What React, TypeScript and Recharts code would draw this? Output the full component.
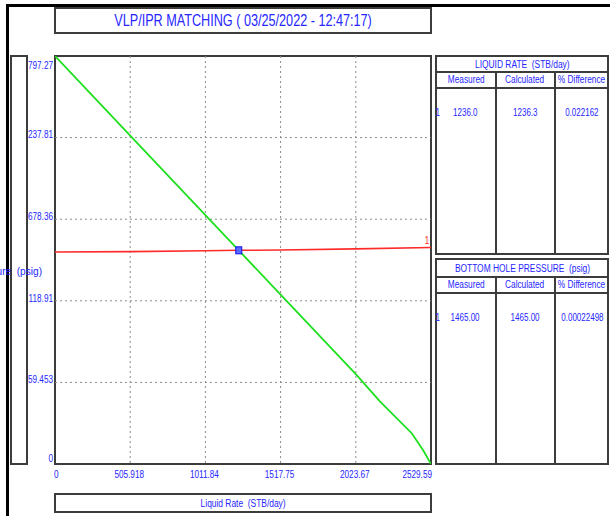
import React from 'react'
import { ComposedChart, Line, Scatter, XAxis, YAxis, CartesianGrid } from 'recharts'

// axis ticks (labels as printed by the matching report, leading digits cut off)
const rateTicks = [0, 505.918, 1011.84, 1517.75, 2023.67, 2529.59]
const rateTickLabels = ['0', '505.918', '1011.84', '1517.75', '2023.67', '2529.59']
const pressureTicks = [0, 559.453, 1118.91, 1678.36, 2237.81, 2797.27]
const pressureTickLabels = ['0', '59.453', '118.91', '678.36', '237.81', '797.27']

// IPR curve
const iprRate = [0, 505.918, 1011.84, 1517.75, 2023.67, 2186, 2399.8, 2475.8, 2529.59]
const iprPressure = [2797.27, 2252, 1707, 1161, 616, 430, 211, 96, 0]

// VLP curve
const vlpRate = [0, 505.918, 1011.84, 1236.3, 1517.75, 2023.67, 2529.59]
const vlpPressure = [1453, 1456, 1462, 1465, 1467, 1475, 1484]

// matched operating point
const matchRate = 1236.3
const matchPressure = 1465

const tableColumns = ['Measured', 'Calculated', '% Difference']
const liquidRateRow = ['1236.0', '1236.3', '0.022162']
const bhpRow = ['1465.00', '1465.00', '0.00022498']

const iprData = iprRate.map((x, i) => ({ x, y: iprPressure[i] }))
const vlpData = vlpRate.map((x, i) => ({ x, y: vlpPressure[i] }))
const matchData = [{ x: matchRate, y: matchPressure }]

const BLUE = '#2626ff'
const EDGE = '#3c3c3c'
const FONT = "'Liberation Sans', Arial, sans-serif"

const PLOT_L = 55
const PLOT_R = 431
const PLOT_T = 56
const PLOT_B = 464

function Box({ left, top, width, height, border = 2 }: { left: number; top: number; width: number; height: number; border?: number }) {
  return (
    <div
      style={{
        position: 'absolute',
        left,
        top,
        width,
        height,
        border: `${border}px solid ${EDGE}`,
        boxSizing: 'border-box',
      }}
    />
  )
}

// text centred on (cx, cy), squeezed horizontally like the report's narrow font
function Centered({ cx, cy, size, scale = 0.8, children }: { cx: number; cy: number; size: number; scale?: number; children: React.ReactNode }) {
  return (
    <div
      style={{
        position: 'absolute',
        left: cx - 300,
        width: 600,
        top: cy - size,
        height: size * 2,
        display: 'flex',
        alignItems: 'center',
        justifyContent: 'center',
        fontSize: size,
        lineHeight: 1,
        color: BLUE,
        whiteSpace: 'nowrap',
      }}
    >
      <span style={{ display: 'inline-block', transform: `scaleX(${scale})` }}>{children}</span>
    </div>
  )
}

function StatsTable({ top, bottom, headH, title, row }: { top: number; bottom: number; headH: number; title: string; row: string[] }) {
  const left = 435
  const right = 609
  const colX = [495, 554]
  const colCx = [466, 525, 582]
  const headLine = top + headH
  const colLine = headLine + 15.5
  return (
    <>
      <Box left={left} top={top} width={right - left} height={bottom - top} />
      <div style={{ position: 'absolute', left, top: headLine - 1, width: right - left, height: 2, background: EDGE }} />
      <div style={{ position: 'absolute', left, top: colLine - 1, width: right - left, height: 2, background: EDGE }} />
      {colX.map((x) => (
        <div key={x} style={{ position: 'absolute', left: x, top: headLine, width: 2, height: bottom - headLine, background: EDGE }} />
      ))}
      <Centered cx={(left + right) / 2} cy={top + headH / 2 + 1} size={10} scale={0.84}>
        {title}
      </Centered>
      {tableColumns.map((c, i) => (
        <Centered key={c} cx={colCx[i]} cy={headLine + 8} size={10} scale={0.83}>
          {c}
        </Centered>
      ))}
      <Centered cx={438} cy={colLine + 25} size={10} scale={0.8}>
        1
      </Centered>
      {row.map((v, i) => (
        <Centered key={i} cx={colCx[i] - (i === 0 ? 1 : 0)} cy={colLine + 25} size={10} scale={0.8}>
          {v}
        </Centered>
      ))}
    </>
  )
}

function svgText(x: number, y: number, text: string, anchor: 'start' | 'middle' | 'end', size: number, scale: number, fill = BLUE) {
  return (
    <text
      transform={`translate(${x},${y}) scale(${scale},1)`}
      x={0}
      y={0}
      dy="0.36em"
      textAnchor={anchor}
      fontSize={size}
      fontFamily={FONT}
      fill={fill}
    >
      {text}
    </text>
  )
}

function RateTick(props: any) {
  const { x, index } = props
  const label = rateTickLabels[index]
  if (index === 0) return svgText(PLOT_L - 1, 474, label, 'start', 10.5, 0.78)
  if (index === rateTicks.length - 1) return svgText(PLOT_R + 1, 474, label, 'end', 10.5, 0.78)
  return svgText(x - 1, 474, label, 'middle', 10.5, 0.78)
}

function PressureTick(props: any) {
  const { y, index } = props
  const cy = Math.min(Math.max(y - 3, 65), 458)
  return svgText(53, cy, pressureTickLabels[index], 'end', 10.5, 0.78)
}

function MatchMarker(props: any) {
  const { cx, cy } = props
  return <rect x={cx - 3} y={cy - 3.5} width={6} height={7} fill="#5a6bff" stroke="#1010ee" strokeWidth={1} />
}

function VlpLabel(props: any) {
  const { x, y, index } = props
  if (index !== vlpData.length - 1) return <g />
  return svgText(x - 4, y - 8, '1', 'middle', 11, 0.8, '#ff3030')
}

export default function App() {
  return (
    <div
      style={{
        position: 'absolute',
        left: 0,
        top: 0,
        width: 610,
        height: 516,
        background: '#fff',
        overflow: 'hidden',
        fontFamily: FONT,
      }}
    >
      {/* outer frame */}
      <div style={{ position: 'absolute', left: 6, top: 4, width: 604, height: 3, background: '#000' }} />
      <div style={{ position: 'absolute', left: 6, top: 4, width: 3, height: 512, background: '#000' }} />

      {/* title */}
      <Box left={54} top={7} width={378} height={27} />
      <Centered cx={243} cy={21} size={16} scale={0.79}>
        VLP/IPR MATCHING ( 03/25/2022 - 12:47:17)
      </Centered>

      {/* axis title boxes and plot frame */}
      <Box left={10} top={55} width={18} height={410} />
      <Box left={54} top={55} width={378} height={410} />
      <Box left={54} top={493} width={378} height={20} />
      <Centered cx={243} cy={503} size={10.5} scale={0.8}>
        Liquid Rate&nbsp;&nbsp;(STB/day)
      </Centered>

      <StatsTable top={55} bottom={255} headH={17} title={'LIQUID RATE\u00a0\u00a0(STB/day)'} row={liquidRateRow} />
      <StatsTable top={258} bottom={465} headH={19} title={'BOTTOM HOLE PRESSURE\u00a0\u00a0(psig)'} row={bhpRow} />

      <div style={{ position: 'absolute', left: 0, top: 0 }}>
        <ComposedChart
          width={610}
          height={516}
          margin={{ top: PLOT_T, right: 610 - PLOT_R, bottom: 0, left: 0 }}
        >
          <CartesianGrid stroke="#8a8a8a" strokeDasharray="2 3" horizontalValues={pressureTicks.slice(1, -1)} verticalValues={rateTicks.slice(1, -1)} />
          <XAxis
            dataKey="x"
            type="number"
            domain={[0, 2529.59]}
            ticks={rateTicks}
            tick={<RateTick />}
            axisLine={false}
            tickLine={false}
            height={516 - PLOT_B}
            allowDataOverflow
          />
          <YAxis
            dataKey="y"
            type="number"
            domain={[0, 2797.27]}
            ticks={pressureTicks}
            tick={<PressureTick />}
            axisLine={false}
            tickLine={false}
            width={PLOT_L}
            allowDataOverflow
          />
          <Line
            data={vlpData}
            dataKey="y"
            stroke="#ff2a2a"
            strokeWidth={1.6}
            dot={false}
            label={<VlpLabel />}
            isAnimationActive={false}
          />
          <Line
            data={iprData}
            dataKey="y"
            stroke="#1ee01e"
            strokeWidth={1.8}
            dot={false}
            isAnimationActive={false}
          />
          <Scatter data={matchData} dataKey="y" shape={<MatchMarker />} isAnimationActive={false} />
        </ComposedChart>
      </div>

      {/* y axis title, runs past the page edge in the report */}
      <svg style={{ position: 'absolute', left: 0, top: 0 }} width={60} height={516}>
        {svgText(42, 271, 'Pressure\u00a0\u00a0(psig)', 'end', 11, 0.92)}
      </svg>
    </div>
  )
}
